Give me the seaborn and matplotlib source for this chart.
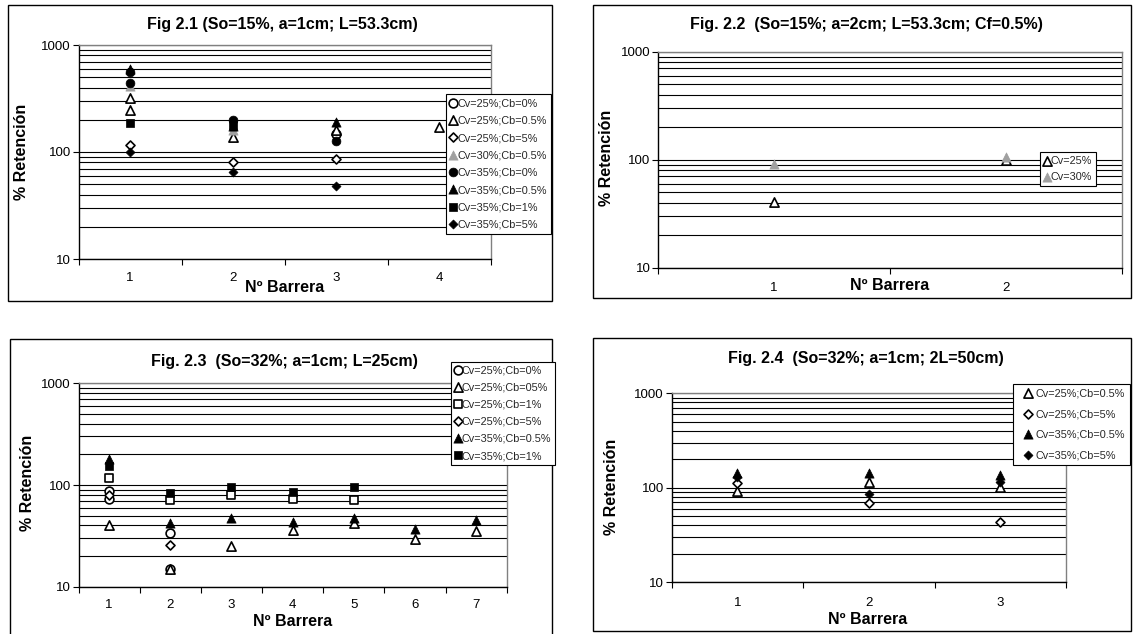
import numpy as np
import matplotlib
matplotlib.use("Agg")
import matplotlib.pyplot as plt
import seaborn as sns
from matplotlib.ticker import FixedLocator, FixedFormatter, LogLocator, NullFormatter
from matplotlib.patches import Rectangle

# ---------------- data ----------------
ylabel_text = "% Retención"
xlabel_text = "Nº Barrera"
ytick_vals = [10, 100, 1000]
ytick_labels = ["10", "100", "1000"]

# Fig 2.1
p1_title = "Fig 2.1 (So=15%, a=1cm; L=53.3cm)"
p1_cats = ["1", "2", "3", "4"]
p1_labels = ["Cv=25%;Cb=0%", "Cv=25%;Cb=0.5%", "Cv=25%;Cb=5%", "Cv=30%;Cb=0.5%",
             "Cv=35%;Cb=0%", "Cv=35%;Cb=0.5%", "Cv=35%;Cb=1%", "Cv=35%;Cb=5%"]
p1_x = [[3], [1, 1, 2, 3, 4], [1, 2, 3], [1, 2], [1, 1, 2, 3], [1, 2, 3], [1, 2], [1, 2, 3]]
p1_y = [[148], [320, 245, 138, 160, 170], [116, 81, 86], [410, 160], [555, 440, 198, 128],
        [600, 175, 190], [185, 180], [100, 65.5, 48.4]]

# Fig 2.2
p2_title = "Fig. 2.2  (So=15%; a=2cm; L=53.3cm; Cf=0.5%)"
p2_cats = ["1", "2"]
p2_labels = ["Cv=25%", "Cv=30%"]
p2_x = [[1, 2], [1, 2]]
p2_y = [[41, 100], [91, 107]]

# Fig 2.3
p3_title = "Fig. 2.3  (So=32%; a=1cm; L=25cm)"
p3_cats = ["1", "2", "3", "4", "5", "6", "7"]
p3_labels = ["Cv=25%;Cb=0%", "Cv=25%;Cb=05%", "Cv=25%;Cb=1%", "Cv=25%;Cb=5%",
             "Cv=35%;Cb=0.5%", "Cv=35%;Cb=1%"]
p3_x = [[1, 1, 2, 2], [1, 2, 3, 4, 5, 6, 7], [1, 2, 3, 4, 5], [1, 2],
        [1, 2, 3, 4, 5, 6, 7], [1, 2, 3, 4, 5]]
p3_y = [[88, 73, 33.5, 15], [40, 15, 25.3, 36, 42.6, 29.4, 35.6], [116, 71, 80, 73, 72], [80, 25.7],
        [180, 42.6, 47.1, 43.6, 47.7, 36.9, 45.3], [154, 84, 96, 86, 95]]

# Fig 2.4
p4_title = "Fig. 2.4  (So=32%; a=1cm; 2L=50cm)"
p4_cats = ["1", "2", "3"]
p4_labels = ["Cv=25%;Cb=0.5%", "Cv=25%;Cb=5%", "Cv=35%;Cb=0.5%", "Cv=35%;Cb=5%"]
p4_x = [[1, 2, 3], [1, 2, 3], [1, 2, 3], [1, 2, 3]]
p4_y = [[93, 116, 101], [112, 69.5, 43.8], [142, 145, 135], [131, 85, 116]]

# ---------------- styles ----------------
p1_styles = ["o_open", "^_open", "D_open", "^_gray", "o_fill", "^_fill", "s_fill", "D_fill"]
p2_styles = ["^_open", "^_gray"]
p3_styles = ["o_open", "^_open", "s_open", "D_open", "^_fill", "s_fill"]
p4_styles = ["^_open", "D_open", "^_fill", "D_fill"]

SIZES = {"o": 40, "^": 44, "s": 38, "D": 21}


def style_kw(code):
    m, kind = code.split("_")
    kw = dict(marker=m, s=SIZES[m])
    if kind == "open":
        kw.update(color="black", facecolor="white", edgecolor="black", linewidth=1.2)
    elif kind == "gray":
        kw.update(color="#a0a0a0", edgecolor="#a0a0a0", linewidth=0.5)
    else:
        kw.update(color="black", edgecolor="black", linewidth=0.5)
    return kw


sns.set_theme(style="white")
plt.rcParams["font.family"] = ["Liberation Sans", "DejaVu Sans"]

W, H = 1136, 634
fig = plt.figure(figsize=(W / 100, H / 100), dpi=100)
fig.patch.set_facecolor("white")


def px_axes(l, t, r, b):
    return fig.add_axes([l / W, 1 - b / H, (r - l) / W, (b - t) / H])


def border(l, t, r, b):
    fig.add_artist(Rectangle((l / W, 1 - b / H), (r - l) / W, (b - t) / H,
                             transform=fig.transFigure, fill=False,
                             edgecolor="black", linewidth=1.0, zorder=-1))


def panel(box, ax_px, title, title_xy, cats, labels, xs, ys, styles,
          xtick_pad, xlabel_xy, ylabel_xy, leg):
    border(*box)
    ax = px_axes(*ax_px)
    for lab, x, y, st in zip(labels, xs, ys, styles):
        sns.scatterplot(x=x, y=y, ax=ax, label=lab, legend=False, zorder=3, **style_kw(st))
    ax.set_yscale("log")
    ax.set_ylim(10, 1000)
    n = len(cats)
    ax.set_xlim(0.5, n + 0.5)
    ax.yaxis.set_major_locator(FixedLocator(ytick_vals))
    ax.yaxis.set_major_formatter(FixedFormatter(ytick_labels))
    ax.yaxis.set_minor_locator(LogLocator(base=10, subs=np.arange(2, 10)))
    ax.yaxis.set_minor_formatter(NullFormatter())
    ax.grid(True, axis="y", which="both", color="black", linewidth=0.8)
    ax.grid(False, axis="x")
    ax.set_axisbelow(True)
    ax.xaxis.set_major_locator(FixedLocator(np.arange(0.5, n + 1.0, 1.0)))
    ax.xaxis.set_major_formatter(NullFormatter())
    ax.xaxis.set_minor_locator(FixedLocator(np.arange(1, n + 1)))
    ax.xaxis.set_minor_formatter(FixedFormatter(cats))
    ax.tick_params(axis="x", which="major", bottom=True, length=4, width=0.8,
                   direction="out", color="black")
    ax.tick_params(axis="x", which="minor", bottom=True, length=0, pad=xtick_pad,
                   labelsize=9.5, labelcolor="black")
    ax.tick_params(axis="y", which="major", left=True, length=4, width=0.8,
                   direction="out", color="black", pad=1.5, labelsize=9.5, labelcolor="black")
    ax.tick_params(axis="y", which="minor", left=False, length=0)
    for side in ["left", "bottom"]:
        ax.spines[side].set_color("black")
        ax.spines[side].set_linewidth(1.0)
    for side in ["top", "right"]:
        ax.spines[side].set_color("#808080")
        ax.spines[side].set_linewidth(1.0)
    ax.set_facecolor("white")

    ax.set_xlabel(xlabel_text, fontsize=11.5, fontweight="bold", color="black")
    ax.xaxis.set_label_coords(*xlabel_xy)
    ax.xaxis.label.set_va("center")
    ax.set_ylabel(ylabel_text, fontsize=11.5, fontweight="bold", color="black")
    ax.yaxis.set_label_coords(*ylabel_xy)
    ax.yaxis.label.set_va("center")

    fig.text(title_xy[0] / W, 1 - title_xy[1] / H, title, ha="center", va="center",
             fontsize=11.5, fontweight="bold", color="black")

    lx, ly, bp, hl, tp, ls = leg
    lg = ax.legend(loc="upper left", bbox_to_anchor=(lx / W, 1 - ly / H),
                   bbox_transform=fig.transFigure, fontsize=7.8, frameon=True,
                   fancybox=False, shadow=False, framealpha=1, edgecolor="black",
                   borderpad=bp, handlelength=hl, handletextpad=tp, labelspacing=ls,
                   borderaxespad=0, scatterpoints=1, scatteryoffsets=[0.5])
    lg.get_frame().set_linewidth(0.8)
    lg.get_frame().set_facecolor("white")
    return ax


# Panel 1
panel((8, 5, 552, 301), (78.5, 45, 490.5, 259), p1_title, (282, 25), p1_cats,
      p1_labels, p1_x, p1_y, p1_styles, 9.5, (0.501, -0.131), (-0.138, 0.5),
      (446, 94.3, 0.38, 0.55, 0.1, 0.68))
# Panel 2
panel((592.5, 5, 1131, 298), (658, 51.7, 1122, 267.7), p2_title, (866, 25), p2_cats,
      p2_labels, p2_x, p2_y, p2_styles, 10.0, (0.5, -0.083), (-0.112, 0.508),
      (1040, 152.3, 0.38, 0.5, 0.13, 0.55))
# Panel 3
panel((10, 339, 552, 640), (78.5, 383.3, 506.8, 586.7), p3_title, (284.5, 361.7), p3_cats,
      p3_labels, p3_x, p3_y, p3_styles, 8.6, (0.4997, -0.172), (-0.120, 0.51),
      (450.5, 361.7, 0.38, 0.55, 0.1, 0.65))
# Panel 4
panel((592.5, 338, 1131, 631), (671.5, 393.3, 1066, 582.3), p4_title, (866, 358.3), p4_cats,
      p4_labels, p4_x, p4_y, p4_styles, 10.8, (0.498, -0.196), (-0.152, 0.506),
      (1012.7, 384, 0.45, 2.0, -0.36, 0.97))

fig.savefig("out.png", dpi=100, facecolor="white")
